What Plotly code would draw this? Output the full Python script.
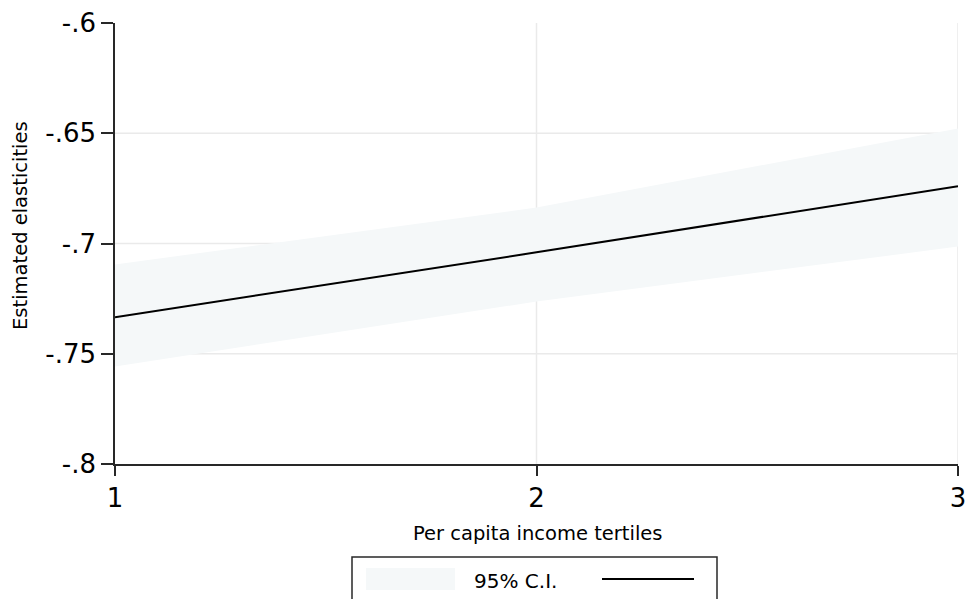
import plotly.graph_objects as go

# Predicted elasticities by income tertile with 95% confidence band
tertiles = [1, 2, 3]
estimate = [-0.7334, -0.7040, -0.6740]
ci_upper = [-0.7095, -0.6837, -0.6478]
ci_lower = [-0.7558, -0.7263, -0.7014]

y_ticks = [-0.8, -0.75, -0.7, -0.65, -0.6]
y_tick_text = ["-.8", "-.75", "-.7", "-.65", "-.6"]
x_ticks = [1, 2, 3]
x_tick_text = ["1", "2", "3"]

band_color = "rgb(245,248,249)"
grid_color = "rgb(234,234,234)"
axis_color = "rgb(40,40,40)"
font_family = "DejaVu Sans, Verdana, sans-serif"

fig = go.Figure()

# Confidence band (lower edge then upper edge filled to it)
fig.add_trace(go.Scatter(x=tertiles, y=ci_lower, mode="lines",
                         line=dict(width=0, color=band_color),
                         hoverinfo="skip", showlegend=False))
fig.add_trace(go.Scatter(x=tertiles, y=ci_upper, mode="lines",
                         line=dict(width=0, color=band_color),
                         fill="tonexty", fillcolor=band_color,
                         name="95% C.I.", showlegend=False))
# Point estimates
fig.add_trace(go.Scatter(x=tertiles, y=estimate, mode="lines",
                         line=dict(color="black", width=2),
                         showlegend=False))

# Interior gridlines (none along the top edge)
shapes = []
for v in y_ticks[1:-1]:
    shapes.append(dict(type="line", xref="x", yref="y", x0=1, x1=3, y0=v, y1=v,
                       line=dict(color=grid_color, width=1.5), layer="below"))
for v in x_ticks[1:]:
    shapes.append(dict(type="line", xref="x", yref="y", x0=v, x1=v,
                       y0=y_ticks[0], y1=y_ticks[-1],
                       line=dict(color=grid_color, width=1.5), layer="below"))

# Legend box below the plot
W, H = 843.0, 441.0
def px(xp):
    return (xp - 115) / W
def py(yp):
    return (464 - yp) / H

shapes.append(dict(type="rect", xref="paper", yref="paper",
                   x0=px(352), x1=px(717), y0=py(557), y1=py(610),
                   line=dict(color=axis_color, width=1.5), fillcolor="white"))
shapes.append(dict(type="rect", xref="paper", yref="paper",
                   x0=px(366), x1=px(455), y0=py(568), y1=py(590),
                   line=dict(width=0), fillcolor=band_color))
shapes.append(dict(type="line", xref="paper", yref="paper",
                   x0=px(602), x1=px(694), y0=py(579), y1=py(579),
                   line=dict(color="black", width=2)))

annotations = [
    dict(text="95% C.I.", xref="paper", yref="paper", x=px(472), y=py(581),
         xanchor="left", yanchor="middle", showarrow=False,
         font=dict(size=20, color="black", family=font_family)),
    dict(text="Estimated elasticities", xref="paper", yref="paper",
         x=px(20), y=py(226), textangle=-90, xanchor="center", yanchor="middle",
         showarrow=False, font=dict(size=19.5, color="black", family=font_family)),
    dict(text="Per capita income tertiles", xref="paper", yref="paper",
         x=px(537), y=py(533), xanchor="center", yanchor="middle",
         showarrow=False, font=dict(size=19.5, color="black", family=font_family)),
]

fig.update_layout(
    width=966, height=599,
    margin=dict(l=115, r=8, t=23, b=135, autoexpand=False),
    paper_bgcolor="white", plot_bgcolor="white",
    font=dict(family=font_family, color="black"),
    shapes=shapes, annotations=annotations,
    showlegend=False,
)
fig.update_xaxes(range=[1, 3], tickvals=x_ticks, ticktext=x_tick_text,
                 showgrid=False, zeroline=False, showline=True,
                 linecolor=axis_color, linewidth=1.5, automargin=False,
                 ticks="outside", ticklen=10, tickwidth=1.5, tickcolor=axis_color,
                 ticklabeloverflow="allow",
                 tickfont=dict(size=26, family=font_family, color="black"))
fig.update_yaxes(range=[-0.8, -0.6], tickvals=y_ticks, ticktext=y_tick_text,
                 showgrid=False, zeroline=False, showline=True,
                 linecolor=axis_color, linewidth=1.5, automargin=False,
                 ticks="outside", ticklen=12, tickwidth=1.5, tickcolor=axis_color,
                 ticklabeloverflow="allow",
                 tickfont=dict(size=26, family=font_family, color="black"))

fig.write_html("out.html")
